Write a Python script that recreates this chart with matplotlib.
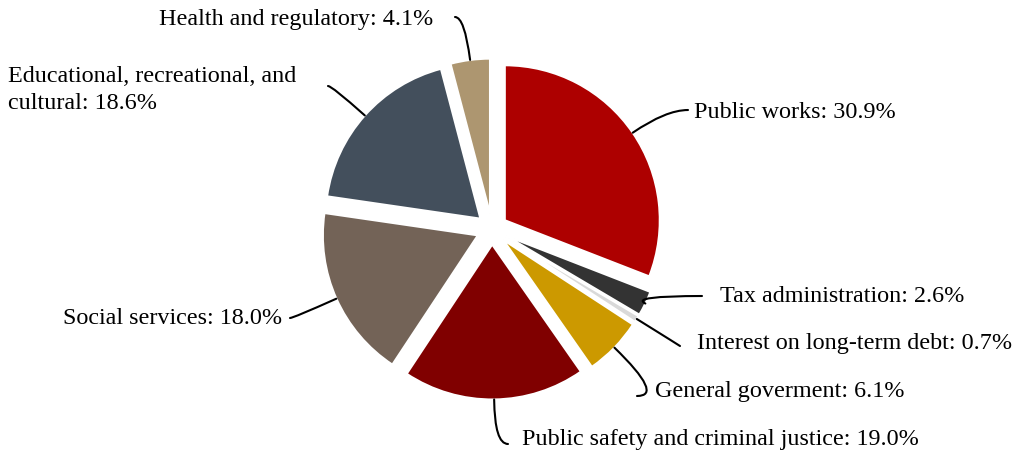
import numpy as np
import matplotlib.pyplot as plt

plt.rcParams['font.family'] = ['Liberation Serif', 'DejaVu Serif']

categories = ["Public works", "Tax administration", "Interest on long-term debt",
              "General goverment", "Public safety and criminal justice",
              "Social services", "Educational, recreational, and\ncultural",
              "Health and regulatory"]
shares = [30.9, 2.6, 0.7, 6.1, 19.0, 18.0, 18.6, 4.1]
colors = ["#ad0000", "#333333", "#d9d9d9", "#cc9900", "#800000",
          "#736357", "#434f5c", "#ad9670"]

# pixel layout helpers (pie center at 492,229; radius 155 px)
CX, CY, R = 492, 229, 155
W, H = 1016, 457

def px(x, y):
    return ((x - CX) / R, (CY - y) / R)

# text anchor (pixels), alignment, leader-line end (pixels)
label_pos = [(694, 113, 'left'), (720, 297, 'left'), (697, 344, 'left'),
             (655, 391, 'left'), (522, 440, 'left'), (282, 318, 'right'),
             (8, 90, 'left'), (433, 20, 'right')]
line_end = [(688, 110), (702, 296), (680, 346), (637, 396),
            (508, 444), (290, 318), (328, 86), (455, 17)]

fig = plt.figure(figsize=(W / 100, H / 100), dpi=100)
ax = fig.add_axes([0, 0, 1, 1])
explode = [0.1] * len(shares)
wedges, _ = ax.pie(shares, colors=colors, startangle=90, counterclock=False,
                   explode=explode, radius=1,
                   wedgeprops=dict(linewidth=1.5, edgecolor='white'))
ax.set_xlim(-CX / R, (W - CX) / R)
ax.set_ylim(-(H - CY) / R, CY / R)
ax.set_aspect('auto')
ax.axis('off')

for w, name, val, (tx, ty, ha), (ex, ey) in zip(wedges, categories, shares, label_pos, line_end):
    mid = np.deg2rad((w.theta1 + w.theta2) / 2)
    cx, cy = w.center
    edge = (cx + np.cos(mid), cy + np.sin(mid))
    ang = np.rad2deg(mid)
    ax.annotate('', xy=edge, xytext=px(ex, ey),
                arrowprops=dict(arrowstyle='-', color='black', lw=1.5,
                                shrinkA=0, shrinkB=0,
                                connectionstyle=f'angle3,angleA=0,angleB={ang:.1f}'))
    ax.text(*px(tx, ty), f"{name}: {val:.1f}%", ha=ha, va='center',
            fontsize=17.4, color='black', linespacing=1.4)

fig.savefig('out.png', dpi=100)
